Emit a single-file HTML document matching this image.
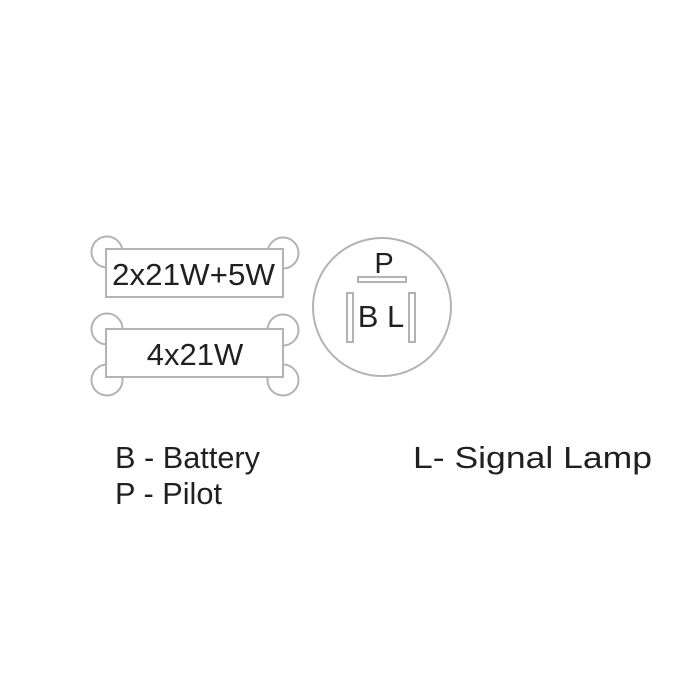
<!DOCTYPE html>
<html><head><meta charset="utf-8"><style>
html,body{margin:0;padding:0;background:#fff;}
svg{display:block;}
text{font-family:"Liberation Sans",Arial,sans-serif;fill:#231f20;}
</style></head><body>
<svg width="700" height="700" viewBox="0 0 700 700" xmlns="http://www.w3.org/2000/svg">
<g fill="#fff" stroke="#b3b3b3" stroke-width="2">
  <circle cx="107" cy="252" r="15.5"/>
  <circle cx="283" cy="253" r="15.5"/>
  <rect x="106" y="249" width="177" height="48"/>
  <circle cx="107" cy="329" r="15.5"/>
  <circle cx="283" cy="330" r="15.5"/>
  <circle cx="107" cy="380" r="15.5"/>
  <circle cx="283" cy="380" r="15.5"/>
  <rect x="106" y="329" width="177" height="48"/>
  <circle cx="382" cy="307" r="69"/>
  <rect x="358" y="277" width="48" height="5"/>
  <rect x="347" y="293" width="6" height="49"/>
  <rect x="409" y="293" width="6" height="49"/>
</g>
<text x="112" y="285" font-size="31" textLength="163" lengthAdjust="spacingAndGlyphs">2x21W+5W</text>
<text x="195" y="365" font-size="31" text-anchor="middle">4x21W</text>
<text x="384" y="273" font-size="29" text-anchor="middle">P</text>
<text x="381" y="327" font-size="31" text-anchor="middle">B L</text>
<text x="115" y="468" font-size="31" textLength="145" lengthAdjust="spacingAndGlyphs">B - Battery</text>
<text x="115" y="504" font-size="31" textLength="107" lengthAdjust="spacingAndGlyphs">P - Pilot</text>
<text x="413" y="468" font-size="31" textLength="239" lengthAdjust="spacingAndGlyphs">L- Signal Lamp</text>
</svg>
</body></html>
